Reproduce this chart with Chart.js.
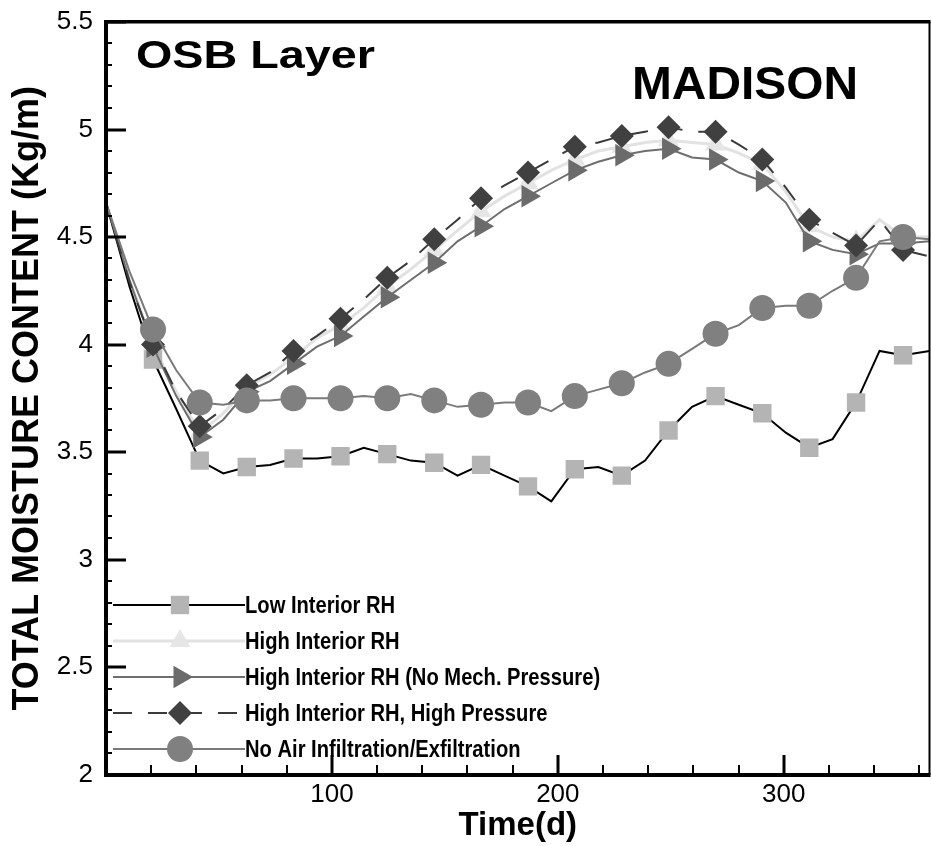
<!DOCTYPE html>
<html>
<head>
<meta charset="utf-8">
<title>OSB Layer - Madison</title>
<script src="https://cdn.jsdelivr.net/npm/chart.js"></script>
<style>
  body { margin: 0; background: #fff; }
  #wrap { width: 931px; height: 846px; }
</style>
</head>
<body>
<div id="wrap"><canvas id="chart" width="931" height="846"></canvas></div>
<script>
// time axis (days) - a marker sits on every second point
const days = [0, 10.4, 20.8, 31.1, 41.5, 51.9, 62.3, 72.6, 83, 93.4, 103.8, 114.1, 124.5, 134.9,
  145.3, 155.6, 166, 176.4, 186.8, 197.1, 207.5, 217.9, 228.3, 238.6, 249, 259.4, 269.8, 280.1,
  290.5, 300.9, 311.3, 321.6, 332, 342.4, 352.8, 364.5];

const lowRH = [4.66, 4.27, 3.93, 3.70, 3.46, 3.40, 3.43, 3.44, 3.47, 3.47, 3.48, 3.52, 3.49, 3.46,
  3.45, 3.39, 3.44, 3.39, 3.34, 3.27, 3.42, 3.43, 3.39, 3.46, 3.60, 3.71, 3.76, 3.72, 3.68, 3.59,
  3.52, 3.56, 3.73, 3.97, 3.95, 3.97];

const highRH = [4.66, 4.30, 4.00, 3.78, 3.59, 3.68, 3.80, 3.86, 3.94, 4.03, 4.09, 4.17, 4.27, 4.35,
  4.44, 4.53, 4.62, 4.69, 4.75, 4.81, 4.86, 4.90, 4.92, 4.94, 4.95, 4.94, 4.93, 4.89, 4.84, 4.71,
  4.55, 4.50, 4.48, 4.58, 4.50, 4.50];

const noMechPressure = [4.66, 4.30, 3.99, 3.76, 3.57, 3.65, 3.78, 3.83, 3.91, 3.99, 4.04, 4.13, 4.22,
  4.30, 4.38, 4.48, 4.55, 4.63, 4.69, 4.75, 4.81, 4.85, 4.88, 4.90, 4.91, 4.87, 4.86, 4.80, 4.76,
  4.66, 4.48, 4.44, 4.42, 4.47, 4.47, 4.48];

const highPressure = [4.66, 4.29, 4.00, 3.78, 3.62, 3.70, 3.81, 3.87, 3.97, 4.04, 4.12, 4.21, 4.31,
  4.39, 4.49, 4.58, 4.68, 4.74, 4.80, 4.86, 4.92, 4.94, 4.97, 4.99, 5.01, 4.99, 4.99, 4.93, 4.86,
  4.73, 4.58, 4.52, 4.46, 4.58, 4.44, 4.41];

const noAirFlow = [4.66, 4.34, 4.07, 3.88, 3.73, 3.72, 3.74, 3.74, 3.75, 3.75, 3.75, 3.76, 3.75, 3.77,
  3.74, 3.71, 3.72, 3.73, 3.73, 3.69, 3.76, 3.79, 3.82, 3.87, 3.91, 3.98, 4.05, 4.09, 4.17, 4.18,
  4.18, 4.25, 4.31, 4.48, 4.50, 4.49];

const seriesLabels = [
  'Low Interior RH',
  'High Interior RH',
  'High Interior RH (No Mech. Pressure)',
  'High Interior RH, High Pressure',
  'No Air Infiltration/Exfiltration'
];

const xTicks = [100, 200, 300];
const yTicks = [2, 2.5, 3, 3.5, 4, 4.5, 5, 5.5];

const FONT = '"Liberation Sans", Arial, Helvetica, sans-serif';

function toPoints(values) {
  return days.map((d, i) => ({ x: d, y: values[i] }));
}

// markers only on every second sample, not on the two end points
function markerRadius(ctx) {
  const i = ctx.dataIndex;
  const last = ctx.dataset.data.length - 1;
  return (i > 0 && i < last && i % 2 === 0) ? ctx.dataset.markerSize : 0;
}

function makeSeries(label, values, style) {
  return {
    label,
    data: toPoints(values),
    borderColor: style.line,
    borderWidth: style.width,
    borderDash: style.dash || [],
    pointStyle: style.marker,
    pointRotation: style.rotation || 0,
    pointBackgroundColor: style.fill,
    pointBorderWidth: 0,
    markerSize: style.size,
    pointRadius: markerRadius,
    pointHoverRadius: markerRadius,
    order: style.order,
    tension: 0
  };
}

const datasets = [
  makeSeries(seriesLabels[0], lowRH, { line: '#000000', width: 2, marker: 'rect', fill: '#b4b4b4', size: 13, order: 4 }),
  makeSeries(seriesLabels[1], highRH, { line: '#e2e2e2', width: 3, marker: 'triangle', fill: '#e6e6e6', size: 12, order: 5 }),
  makeSeries(seriesLabels[2], noMechPressure, { line: '#6e6e6e', width: 2, marker: 'triangle', rotation: 90, fill: '#6b6b6b', size: 13, order: 3 }),
  makeSeries(seriesLabels[3], highPressure, { line: '#3a3a3a', width: 2, dash: [19, 16], marker: 'rectRot', fill: '#404040', size: 12, order: 2 }),
  makeSeries(seriesLabels[4], noAirFlow, { line: '#7a7a7a', width: 2, marker: 'circle', fill: '#808080', size: 13, order: 1 })
];

// axis frame and inward tick marks, all in one path per stroke width
const frameTicks = {
  id: 'frameTicks',
  afterDraw(chart) {
    const ctx = chart.ctx;
    const a = chart.chartArea;
    const xs = chart.scales.x;
    const ys = chart.scales.y;
    const L = Math.round(a.left);
    const B = Math.round(a.bottom);

    ctx.save();
    ctx.setLineDash([]);
    ctx.fillStyle = '#000000';

    // y minor ticks every 0.1
    for (let k = 21; k < 55; k++) {
      if (k % 5 === 0) continue;
      const py = Math.round(ys.getPixelForValue(k / 10));
      ctx.fillRect(L, py - 1, 6, 2);
    }
    // y major ticks
    yTicks.forEach(v => {
      const py = Math.round(ys.getPixelForValue(v));
      ctx.fillRect(L, py - 1.5, 20, 3);
    });
    // x minor ticks every 20 days
    for (let d = 20; d < 365; d += 20) {
      if (d % 100 === 0) continue;
      const px = Math.round(xs.getPixelForValue(d));
      ctx.fillRect(px - 1, B - 10, 2, 10);
    }
    // x major ticks
    xTicks.forEach(v => {
      const px = Math.round(xs.getPixelForValue(v));
      ctx.fillRect(px - 1.5, B - 20, 3, 20);
    });

    // frame
    ctx.fillRect(L - 2, Math.round(a.top) - 2, 4, B - a.top + 4);
    ctx.fillRect(L - 2, Math.round(a.top) - 2, a.right - L + 3, 3.5);
    ctx.fillRect(L - 2, B - 2, a.right - L + 3, 4);
    ctx.fillRect(a.right - 1, a.top, 2, B - a.top);
    ctx.restore();
  }
};

function drawStretched(ctx, text, x, y, font, width) {
  ctx.save();
  ctx.font = font;
  const w = ctx.measureText(text).width;
  ctx.translate(x, y);
  ctx.scale(width / w, 1);
  ctx.fillText(text, 0, 0);
  ctx.restore();
}

// in-plot labels and the legend box at lower left
const annotations = {
  id: 'annotations',
  afterDraw(chart) {
    const ctx = chart.ctx;
    ctx.save();
    ctx.fillStyle = '#000';
    ctx.textAlign = 'left';
    ctx.textBaseline = 'alphabetic';
    drawStretched(ctx, 'OSB Layer', 136, 68, 'bold 39px ' + FONT, 239);
    drawStretched(ctx, 'MADISON', 632, 98.5, 'bold 47px ' + FONT, 226);

    const rows = [605, 641, 677, 713, 749];
    chart.data.datasets.forEach((ds, i) => {
      const ry = rows[i];
      ctx.save();
      ctx.strokeStyle = ds.borderColor;
      ctx.lineWidth = ds.borderWidth;
      ctx.setLineDash(ds.borderDash);
      ctx.beginPath();
      ctx.moveTo(113, ry);
      ctx.lineTo(245, ry);
      ctx.stroke();
      ctx.setLineDash([]);
      ctx.fillStyle = ds.pointBackgroundColor;
      Chart.helpers.drawPoint(ctx, {
        pointStyle: ds.pointStyle,
        rotation: ds.pointRotation,
        radius: ds.markerSize,
        borderWidth: 0
      }, 180, ry);
      ctx.restore();

      ctx.save();
      ctx.fillStyle = '#000';
      ctx.textBaseline = 'middle';
      ctx.font = 'bold 24px ' + FONT;
      ctx.translate(245, ry + 1);
      ctx.scale(0.84, 1);
      ctx.fillText(ds.label, 0, 0);
      ctx.restore();
    });
    ctx.restore();
  }
};

new Chart(document.getElementById('chart'), {
  type: 'line',
  data: { datasets },
  plugins: [annotations, frameTicks],
  options: {
    responsive: false,
    animation: false,
    devicePixelRatio: 1,
    layout: { padding: { top: 22, right: 1.5, bottom: 0, left: 0 } },
    plugins: {
      legend: { display: false },
      tooltip: { enabled: false }
    },
    scales: {
      x: {
        type: 'linear',
        min: 0,
        max: 364.5,
        afterBuildTicks: s => { s.ticks = xTicks.map(v => ({ value: v })); },
        afterFit: s => {
          s.height = 71.5;
          s.paddingLeft = 0;
          s.paddingRight = 0;
        },
        grid: { display: false, drawTicks: false },
        border: { display: false },
        ticks: {
          padding: 5,
          color: '#000',
          autoSkip: false,
          maxRotation: 0,
          font: { family: FONT, size: 26 },
          callback: v => String(v)
        },
        title: {
          display: true,
          text: 'Time(d)',
          color: '#000',
          font: { family: FONT, size: 33, weight: 'bold' },
          padding: { top: 0, bottom: 0 }
        }
      },
      y: {
        min: 2,
        max: 5.5,
        afterBuildTicks: s => { s.ticks = yTicks.map(v => ({ value: v })); },
        afterFit: s => {
          s.width = 106;
          s.paddingTop = 0;
          s.paddingBottom = 0;
        },
        grid: { display: false, drawTicks: false },
        border: { display: false },
        ticks: {
          padding: 13,
          color: '#000',
          autoSkip: false,
          font: { family: FONT, size: 26 },
          callback: v => String(v)
        },
        title: {
          display: true,
          text: 'TOTAL MOISTURE CONTENT (Kg/m)',
          color: '#000',
          font: { family: FONT, size: 36, weight: 'bold' },
          padding: { top: 6.5, bottom: 0 }
        }
      }
    }
  }
});
</script>
</body>
</html>
